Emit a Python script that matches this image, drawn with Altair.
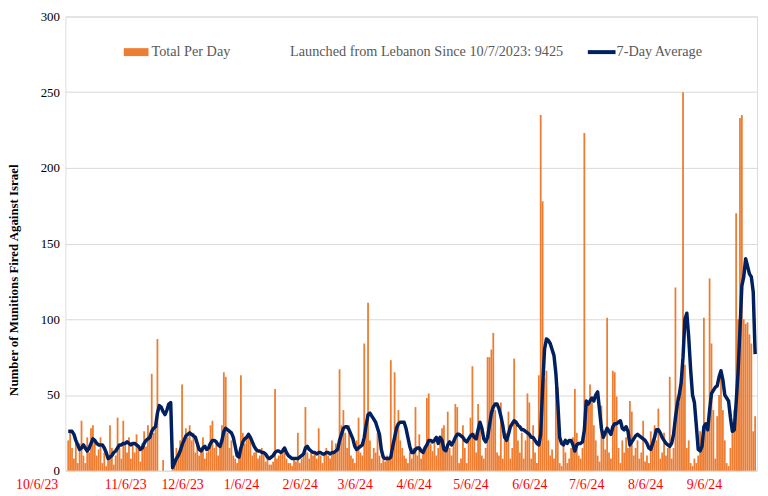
import altair as alt
import pandas as pd

# Daily totals (munitions fired from Lebanon); day 0 = 10/7/2023
total_oct23 = [20, 25, 15, 8, 20, 5, 18, 33, 10, 5, 22, 12, 28, 30, 20, 10, 14, 22, 5, 12, 3, 8, 30, 15, 4]
total_nov23 = [10, 35, 15, 8, 33, 18, 12, 22, 8, 18, 12, 24, 14, 6, 18, 26, 16, 30, 22, 64, 25, 28, 87, 0, 0, 7, 0, 0, 0, 0]
total_dec23 = [3, 8, 15, 10, 20, 57, 18, 28, 22, 30, 20, 25, 12, 18, 10, 15, 22, 8, 12, 18, 30, 33, 15, 20, 10, 18, 30, 65, 62, 25, 15]
total_jan24 = [20, 10, 8, 5, 12, 63, 25, 18, 22, 24, 20, 10, 12, 15, 8, 10, 15, 12, 6, 10, 4, 4, 6, 54, 8, 10, 12, 15, 12, 8, 5]
total_feb24 = [5, 3, 8, 6, 25, 5, 8, 10, 42, 12, 8, 14, 10, 12, 8, 28, 10, 5, 12, 15, 10, 8, 20, 12, 18, 15, 67, 30, 40]
total_mar24 = [25, 15, 30, 10, 8, 5, 20, 35, 12, 10, 84, 30, 111, 20, 8, 15, 12, 25, 10, 5, 8, 6, 10, 8, 73, 12, 65, 30, 40, 20, 15]
total_apr24 = [10, 8, 5, 12, 8, 15, 42, 10, 24, 8, 12, 15, 48, 51, 18, 13, 22, 10, 15, 20, 28, 30, 12, 39, 15, 10, 18, 44, 42, 5]
total_may24 = [8, 30, 15, 5, 20, 35, 69, 25, 12, 44, 30, 10, 8, 15, 75, 75, 80, 91, 40, 12, 10, 45, 8, 20, 25, 39, 8, 15, 74, 30, 20]
total_jun24 = [12, 25, 8, 20, 51, 45, 8, 30, 12, 5, 63, 235, 178, 61, 66, 20, 10, 14, 8, 66, 55, 5, 3, 20, 12, 5, 8, 15, 22, 54]
total_jul24 = [25, 10, 8, 15, 223, 40, 45, 57, 45, 30, 20, 10, 6, 43, 25, 14, 101, 12, 8, 66, 65, 49, 15, 5, 20, 12, 22, 15, 46, 39, 10]
total_aug24 = [15, 20, 8, 12, 33, 6, 10, 5, 26, 18, 30, 20, 41, 8, 12, 25, 10, 15, 62, 8, 15, 121, 49, 45, 60, 250, 70, 15, 20, 5, 3]
total_sep24 = [8, 5, 10, 26, 15, 101, 30, 27, 127, 84, 40, 8, 36, 50, 63, 40, 20, 5, 3, 15, 26, 40, 170, 100, 233, 235, 100, 97, 98, 90]
total_oct24 = [84, 26, 36]

# 7-day average series
avg_oct23 = [26, 26, 26, 24, 20, 17, 14, 15, 17, 15, 13, 15, 18, 21, 20, 18, 17, 17, 17, 15, 12, 8, 9, 10, 12]
avg_nov23 = [13, 15, 17, 17, 18, 18, 19, 18, 17, 18, 18, 17, 16, 14, 15, 18, 20, 21, 22, 26, 28, 29, 38, 43, 42, 39, 37, 40, 44, 45]
avg_dec23 = [2, 5, 8, 10, 13, 17, 20, 23, 24, 25, 24, 23, 22, 18, 14, 13, 15, 16, 14, 15, 18, 20, 20, 19, 17, 16, 20, 26, 28, 27, 26]
avg_jan24 = [25, 22, 16, 10, 9, 15, 19, 21, 22, 24, 22, 19, 16, 14, 13, 13, 12, 12, 11, 9, 8, 9, 10, 12, 13, 13, 12, 13, 15, 12, 10]
avg_feb24 = [9, 8, 8, 8, 8, 9, 10, 11, 15, 16, 14, 13, 12, 12, 11, 12, 12, 11, 11, 12, 12, 11, 12, 12, 13, 14, 20, 24, 28]
avg_mar24 = [29, 29, 27, 24, 21, 16, 14, 15, 16, 17, 22, 30, 37, 38, 36, 34, 32, 28, 24, 14, 9, 8, 8, 8, 9, 16, 22, 28, 31, 32, 32]
avg_apr24 = [32, 28, 22, 16, 12, 12, 14, 15, 15, 13, 12, 15, 17, 20, 20, 19, 20, 22, 18, 22, 20, 14, 13, 17, 19, 17, 19, 22, 24, 24]
avg_may24 = [23, 22, 20, 19, 21, 23, 24, 22, 21, 27, 32, 28, 21, 19, 22, 30, 38, 42, 44, 44, 41, 36, 30, 22, 20, 24, 29, 31, 33, 32, 30]
avg_jun24 = [29, 27, 27, 26, 25, 24, 22, 22, 20, 18, 17, 24, 55, 80, 87, 86, 84, 80, 76, 64, 45, 22, 18, 17, 20, 18, 20, 20, 17, 13]
avg_jul24 = [17, 18, 18, 19, 27, 46, 44, 46, 48, 46, 50, 52, 40, 28, 22, 25, 28, 26, 24, 29, 31, 31, 32, 33, 28, 27, 29, 26, 17, 19, 21]
avg_aug24 = [23, 24, 23, 22, 21, 20, 18, 15, 14, 18, 22, 27, 27, 25, 22, 20, 18, 17, 16, 18, 24, 35, 44, 50, 58, 75, 100, 104, 88, 67, 50]
avg_sep24 = [45, 30, 14, 13, 16, 29, 31, 27, 40, 51, 53, 55, 56, 62, 66, 60, 50, 48, 46, 35, 26, 27, 45, 65, 93, 122, 128, 140, 135, 130]
avg_oct24 = [128, 118, 77]

tick_days = [-1, 30, 60, 91, 122, 151, 182, 212, 243, 273, 304, 335]
tick_labels = ["10/6/23", "11/6/23", "12/6/23", "1/6/24", "2/6/24", "3/6/24",
               "4/6/24", "5/6/24", "6/6/24", "7/6/24", "8/6/24", "9/6/24"]
y_ticks = [0, 50, 100, 150, 200, 250, 300]

legend_total = "Total Per Day"
legend_note = "Launched from Lebanon Since 10/7/2023: 9425"
legend_avg = "7-Day Average"
y_title = "Number of Munitions Fired  Against Israel"

total = (total_oct23 + total_nov23 + total_dec23 + total_jan24 + total_feb24 + total_mar24 +
         total_apr24 + total_may24 + total_jun24 + total_jul24 + total_aug24 + total_sep24 + total_oct24)
avg = (avg_oct23 + avg_nov23 + avg_dec23 + avg_jan24 + avg_feb24 + avg_mar24 +
       avg_apr24 + avg_may24 + avg_jun24 + avg_jul24 + avg_aug24 + avg_sep24 + avg_oct24)
n = min(len(total), len(avg))
df = pd.DataFrame({"day": list(range(n)), "total": total[:n], "avg": avg[:n]})

FONT = "Liberation Serif"
ORANGE = "#ED7D31"
NAVY = "#002060"

label_expr = "[" + ",".join(f"'{t}'" for t in tick_labels) + "][indexof([" + ",".join(str(d) for d in tick_days) + "], datum.value)]"

x_scale = alt.Scale(domain=[-1.5, 363], nice=False, zero=False)
x_axis = alt.Axis(values=tick_days, labelExpr=label_expr, grid=False, ticks=False, domain=False,
                  labelColor="#FF0000", labelFont=FONT, labelFontSize=14, labelPadding=7,
                  labelFlush=False,
                  labelOffset={"condition": {"test": "datum.value == -1", "value": -30}, "value": 0},
                  title=None)
y_scale = alt.Scale(domain=[0, 300], nice=False)
y_axis = alt.Axis(values=y_ticks, grid=True, gridColor="#D9D9D9", gridWidth=1, ticks=False, domain=False,
                  labelFont=FONT, labelFontSize=13, labelColor="#000000", labelPadding=6,
                  title=y_title, titleFont=FONT, titleFontSize=13, titleFontWeight="bold",
                  titleColor="#000000", titleX=-45, titleY=266, titleAngle=-90)

base = alt.Chart(df)

bars = base.transform_calculate(
    d1="datum.day - 0.47", d2="datum.day + 0.47"
).mark_rect(color=ORANGE).encode(
    x=alt.X("d1:Q", scale=x_scale, axis=x_axis),
    x2="d2:Q",
    y=alt.Y("total:Q", scale=y_scale, axis=y_axis),
    y2=alt.datum(0),
)

line = base.mark_line(color=NAVY, strokeWidth=3.5, strokeJoin="round").encode(
    x=alt.X("day:Q", scale=x_scale),
    y=alt.Y("avg:Q", scale=y_scale),
)

one = pd.DataFrame({"k": [0]})
leg_rect = alt.Chart(one).mark_rect(color=ORANGE).encode(
    x=alt.value(59), x2=alt.value(84), y=alt.value(32), y2=alt.value(40))
leg_t1 = alt.Chart(one).mark_text(text=legend_total, align="left", baseline="middle", font=FONT,
                                  fontSize=14.4, color="#595959").encode(x=alt.value(87), y=alt.value(36))
leg_t2 = alt.Chart(one).mark_text(text=legend_note, align="left", baseline="middle", font=FONT,
                                  fontSize=14.4, color="#595959").encode(x=alt.value(227), y=alt.value(36))
leg_rule = alt.Chart(one).mark_rule(color=NAVY, strokeWidth=4).encode(
    x=alt.value(528), x2=alt.value(556), y=alt.value(36))
leg_t3 = alt.Chart(one).mark_text(text=legend_avg, align="left", baseline="middle", font=FONT,
                                  fontSize=14.4, color="#595959").encode(x=alt.value(557), y=alt.value(36))

chart = alt.layer(bars, line, leg_rect, leg_t1, leg_t2, leg_rule, leg_t3).properties(
    width=699, height=459,
    padding={"left": 58, "top": 6, "right": 3, "bottom": 22},
    autosize="none",
).configure_view(stroke=None).configure(background="white")

chart.save("out.html", embed_options={"renderer": "svg", "actions": False})
